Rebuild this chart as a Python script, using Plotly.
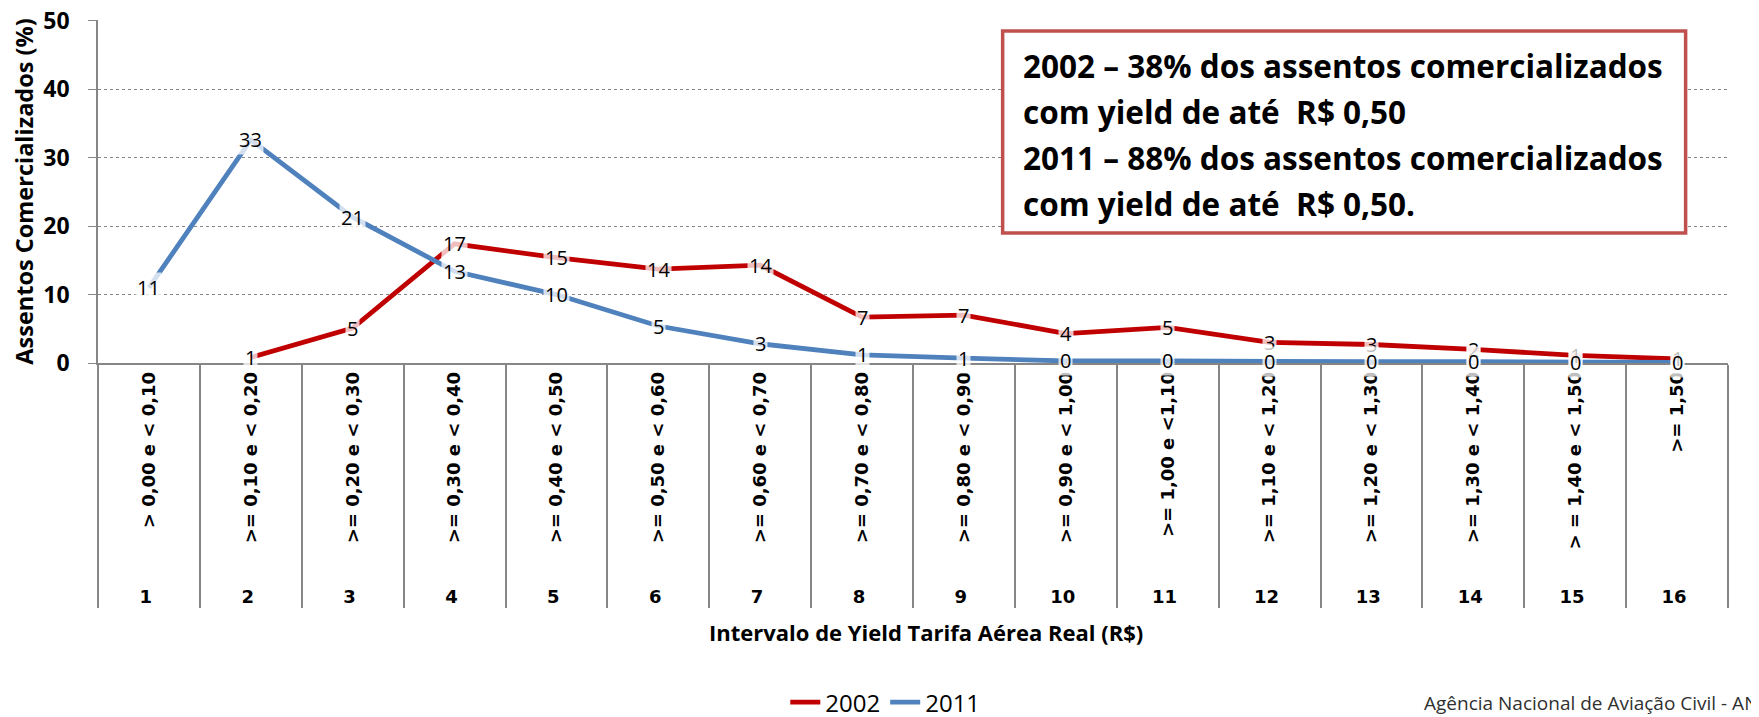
import plotly.graph_objects as go

# ---- data -------------------------------------------------------------
faixas = [
    "> 0,00 e < 0,10", ">= 0,10 e < 0,20", ">= 0,20 e < 0,30", ">= 0,30 e < 0,40",
    ">= 0,40 e < 0,50", ">= 0,50 e < 0,60", ">= 0,60 e < 0,70", ">= 0,70 e < 0,80",
    ">= 0,80 e < 0,90", ">= 0,90 e < 1,00", ">= 1,00 e <1,10", ">= 1,10 e < 1,20",
    ">= 1,20 e < 1,30", ">= 1,30 e < 1,40", "> = 1,40 e < 1,50", ">= 1,50",
]
numeros = [str(i) for i in range(1, 17)]

serie_2002 = [None, 0.8, 5.1, 17.4, 15.4, 13.7, 14.3, 6.7, 7.0, 4.3, 5.2, 3.0, 2.7, 2.0, 1.1, 0.6]
serie_2011 = [11.0, 32.6, 21.3, 13.4, 10.0, 5.4, 2.8, 1.2, 0.7, 0.3, 0.3, 0.2, 0.2, 0.2, 0.1, 0.1]

caixa_linhas = [
    "2002 – 38% dos assentos comercializados",
    "com yield de até  R$ 0,50",
    "2011 – 88% dos assentos comercializados",
    "com yield de até  R$ 0,50.",
]

RED = "#C00000"
BLUE = "#4F81BD"
GRAY = "#868686"
FONT = "Open Sans, sans-serif"

# leading no-break spaces pad the rotated labels a little at the bottom
x = [numeros, ["\u00a0\u00a0\u00a0" + f for f in faixas]]

fig = go.Figure()
fig.add_trace(go.Scatter(x=x, y=serie_2002, name="2002", mode="lines",
                         line=dict(color=RED, width=4.8)))
fig.add_trace(go.Scatter(x=x, y=serie_2011, name="2011", mode="lines",
                         line=dict(color=BLUE, width=4.8)))

# data labels (Excel style: centred, semi-transparent white box)
for serie in (serie_2002, serie_2011):
    for n, f, v in zip(x[0], x[1], serie):
        if v is None:
            continue
        fig.add_annotation(
            x=(n, f), y=v, text=f"{v:.0f}", showarrow=False,
            font=dict(family=FONT, size=20, color="black"),
            bgcolor="rgba(255,255,255,0.75)", borderpad=1,
        )

# text box
fig.add_shape(type="rect", xref="paper", yref="paper",
              x0=0.555, x1=0.974, y0=0.379, y1=0.968,
              line=dict(color="#C0504D", width=3.5), fillcolor="white")
for i, linha in enumerate(caixa_linhas):
    fig.add_annotation(
        xref="paper", yref="paper", x=0.566, y=0.868 - i * 0.134,
        xanchor="left", yanchor="middle", showarrow=False,
        text=f"<b>{linha}</b>", font=dict(family=FONT, size=31.5, color="black"),
    )

# x title and footer
fig.add_annotation(xref="paper", yref="paper", x=0.508, y=-0.784,
                   xanchor="center", yanchor="middle", showarrow=False,
                   text="<b>Intervalo de Yield Tarifa Aérea Real (R$)</b>",
                   font=dict(family=FONT, size=22, color="black"))
fig.add_annotation(xref="paper", yref="paper", x=0.812, y=-0.99, xanchor="left",
                   yanchor="middle", showarrow=False,
                   text="Agência Nacional de Aviação Civil - ANAC",
                   font=dict(family=FONT, size=19, color="#303030"))

fig.update_layout(
    width=1759, height=717,
    margin=dict(l=90, r=39, t=12, b=362, autoexpand=False),
    plot_bgcolor="white", paper_bgcolor="white",
    font=dict(family=FONT, color="black"),
    legend=dict(orientation="h", x=0.483, y=-0.99, xanchor="center", yanchor="middle",
                font=dict(size=24)),
    xaxis=dict(
        type="multicategory", range=[-0.5, 15.5],
        showline=True, linecolor=GRAY, linewidth=1.5,
        ticks="outside", tickcolor="rgba(0,0,0,0)", ticklen=36,
        tickangle=-90, tickfont=dict(family="DejaVu Sans", size=18, weight="bold"),
        showdividers=True, dividercolor=GRAY, dividerwidth=1.5,
        showgrid=False, automargin=False,
    ),
    yaxis=dict(
        range=[0, 50.1], tickvals=[0, 10, 20, 30, 40, 50],
        showline=True, linecolor=GRAY, linewidth=1.5,
        ticks="outside", tickcolor=GRAY, ticklen=8, ticklabelstandoff=14,
        ticklabeloverflow="allow",
        showgrid=True, gridcolor=GRAY, griddash="dot", gridwidth=1,
        zeroline=False,
        tickfont=dict(size=23, weight="bold"),
        title=dict(text="<b>Assentos Comercializados (%)</b>", font=dict(size=23.5), standoff=12),
        automargin=False,
    ),
)

fig.write_html("out.html")
